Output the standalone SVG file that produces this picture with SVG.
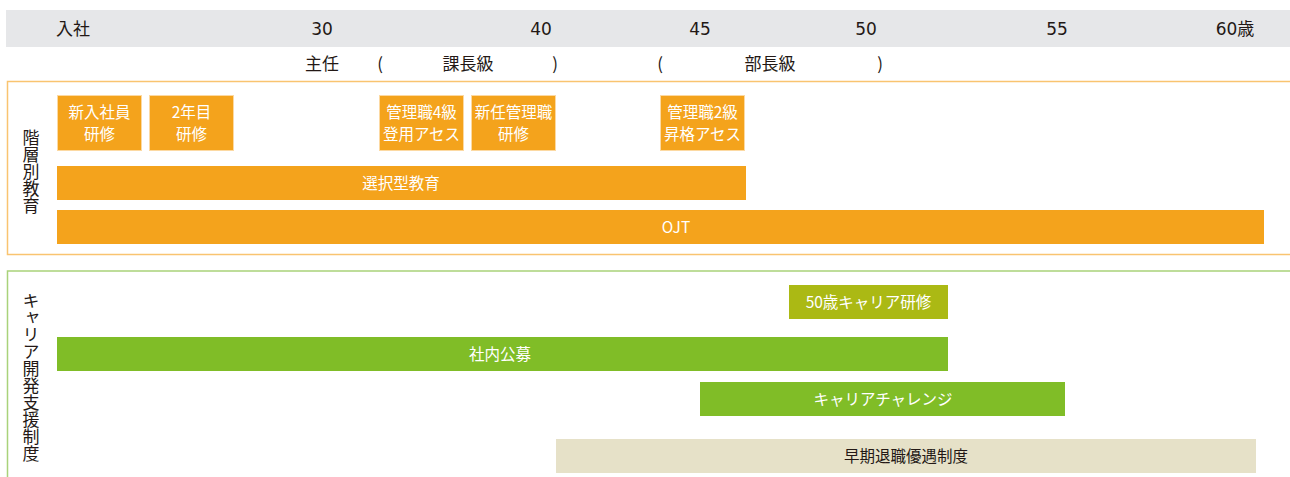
<svg xmlns="http://www.w3.org/2000/svg" width="1290" height="477" viewBox="0 0 1290 477">
<style>
.hd{font-family:"Noto Sans CJK JP","Noto Sans",sans-serif;font-size:17px;fill:#231815;text-anchor:middle}
.num{font-family:"DejaVu Sans","Noto Sans CJK JP",sans-serif;font-size:17px;fill:#231815;text-anchor:middle}
.vl{font-family:"Noto Sans CJK JP",sans-serif;font-size:17px;fill:#231815;writing-mode:tb;text-anchor:start}
.bx{fill:#f4a31c;stroke:#fcd9a2;stroke-width:1}
.bxt{font-family:"Noto Sans CJK JP","Noto Sans",sans-serif;font-size:15.5px;fill:#ffffff;text-anchor:middle}
.bt{font-family:"Noto Sans CJK JP","Noto Sans",sans-serif;font-size:15.5px;fill:#ffffff;text-anchor:middle}
.bt2{font-family:"Noto Sans CJK JP","Noto Sans",sans-serif;font-size:15.5px;fill:#231815;text-anchor:middle}
</style>
<rect x="0" y="0" width="1290" height="477" fill="#ffffff"/>
<g id="header">
<rect x="6" y="10" width="1290" height="37" fill="#e6e7e9"/>
<text class="hd" x="73" y="35">入社</text>
<text class="num" x="322" y="35">30</text>
<text class="num" x="541" y="35">40</text>
<text class="num" x="700" y="35">45</text>
<text class="num" x="866" y="35">50</text>
<text class="num" x="1057" y="35">55</text>
<text class="num" x="1235" y="35">60歳</text>
</g>
<g id="grades">
<text class="hd" x="322" y="70">主任</text>
<text class="hd" x="380" y="70">(</text>
<text class="hd" x="468" y="70">課長級</text>
<text class="hd" x="555" y="70">)</text>
<text class="hd" x="660" y="70">(</text>
<text class="hd" x="770" y="70">部長級</text>
<text class="hd" x="880" y="70">)</text>
</g>
<g id="section-hierarchy">
<rect x="7.5" y="81.5" width="1300" height="173" fill="none" stroke="#f9c470" stroke-width="1.5"/>
<text class="vl" x="31" y="129">階層別教育</text>
</g>
<g id="node-shinnyu">
<rect class="bx" x="57.5" y="95.5" width="84" height="55"/>
<text class="bxt"><tspan x="99.5" y="117.5">新入社員</tspan><tspan x="99.5" y="140">研修</tspan></text>
</g>
<g id="node-2nenme">
<rect class="bx" x="149.5" y="95.5" width="84" height="55"/>
<text class="bxt"><tspan x="191.5" y="117.5">2年目</tspan><tspan x="191.5" y="140">研修</tspan></text>
</g>
<g id="node-kanri4">
<rect class="bx" x="379.5" y="95.5" width="84" height="55"/>
<text class="bxt"><tspan x="421.5" y="117.5">管理職4級</tspan><tspan x="421.5" y="140">登用アセス</tspan></text>
</g>
<g id="node-shinnin">
<rect class="bx" x="471.5" y="95.5" width="84" height="55"/>
<text class="bxt"><tspan x="513.5" y="117.5">新任管理職</tspan><tspan x="513.5" y="140">研修</tspan></text>
</g>
<g id="node-kanri2">
<rect class="bx" x="660.5" y="95.5" width="84" height="55"/>
<text class="bxt"><tspan x="702.5" y="117.5">管理職2級</tspan><tspan x="702.5" y="140">昇格アセス</tspan></text>
</g>
<g id="node-sentaku">
<rect x="57" y="166" width="689" height="34" fill="#f4a31c"/>
<text class="bt" x="401" y="189">選択型教育</text>
</g>
<g id="node-ojt">
<rect x="57" y="210" width="1207" height="34" fill="#f4a31c"/>
<text class="bt" x="676" y="233">OJT</text>
</g>
<g id="section-career">
<rect x="7.5" y="271" width="1300" height="220" fill="none" stroke="#a9d27a" stroke-width="1.5"/>
<text class="vl" x="31" y="292">キャリア開発支援制度</text>
</g>
<g id="node-50sai">
<rect x="789" y="285" width="159" height="34" fill="#abb914"/>
<text class="bt" x="868.5" y="308">50歳キャリア研修</text>
</g>
<g id="node-shanai">
<rect x="57" y="337" width="891" height="34" fill="#80bd27"/>
<text class="bt" x="500" y="360">社内公募</text>
</g>
<g id="node-challenge">
<rect x="700" y="382" width="365" height="34" fill="#80bd27"/>
<text class="bt" x="883" y="405">キャリアチャレンジ</text>
</g>
<g id="node-soki">
<rect x="556" y="439" width="700" height="34" fill="#e6e1c8"/>
<text class="bt2" x="906" y="462">早期退職優遇制度</text>
</g>
<g id="connectors"></g>
</svg>
